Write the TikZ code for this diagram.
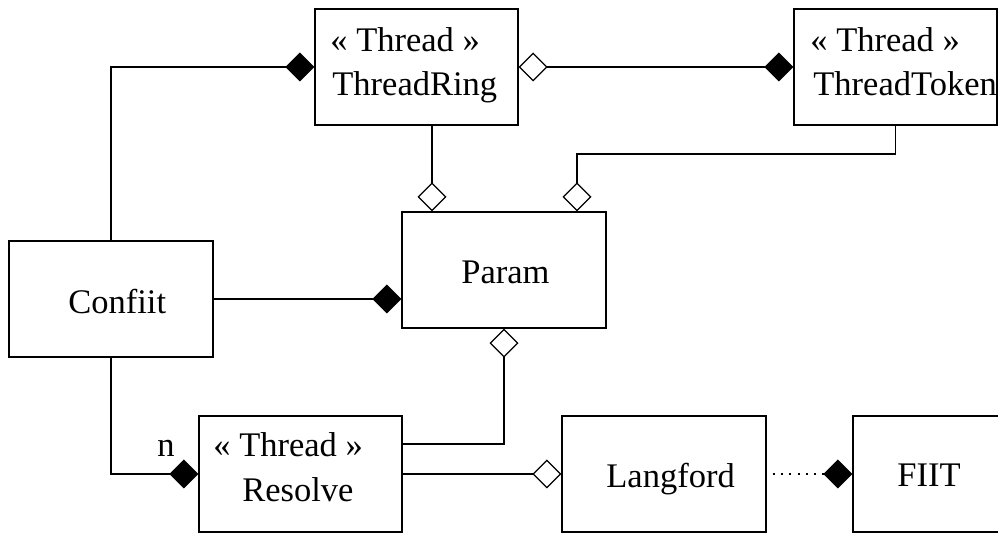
\documentclass[tikz,border=0pt]{standalone}
\usepackage{fontspec}
\setmainfont{Liberation Serif}
\usetikzlibrary{arrows.meta}

\tikzset{
  classbox/.style={draw, line width=0.65pt, inner sep=0pt, minimum height=58pt},
  wide/.style={minimum width=102pt},
  txt/.style={anchor=base west, inner sep=0pt, font=\fontsize{17.25pt}{21pt}\selectfont},
  link/.style={line width=0.65pt},
  comp/.style={link, -{Diamond[fill=black, length=14.5pt, width=14.5pt]}},
  agg/.style={link, -{Diamond[open, fill=white, length=14.5pt, width=14.5pt]}},
  aggcomp/.style={link, {Diamond[open, fill=white, length=14.5pt, width=14.5pt]}-{Diamond[fill=black, length=14.5pt, width=14.5pt]}},
  dep/.style={link, dash pattern=on 1pt off 3.15pt, -{Diamond[fill=black, length=14.5pt, width=14.5pt]}},
}

\begin{document}
\begin{tikzpicture}[x=0.5pt, y=-0.5pt]
  \useasboundingbox (0,0) rectangle (998,533);
  \clip (0,0) rectangle (998,533);

  % class boxes
  \node[classbox, minimum width=101.5pt] (tr)    at (416.5,67)  {};
  \node[classbox, minimum width=101.5pt] (tt)    at (895.5,67)  {};
  \node[classbox, wide]                  (param) at (504,270)   {};
  \node[classbox, wide]                  (conf)  at (111,299)   {};
  \node[classbox, minimum width=101.5pt] (res)   at (300.5,474) {};
  \node[classbox, wide]                  (lang)  at (664,474)   {};
  \node[classbox, wide]                  (fiit)  at (955,474)   {};

  % class names
  \node[txt] (trs)    at (330,52)  {« Thread »};
  \node[txt] (trn)    at (332,96)  {ThreadRing};
  \node[txt] (tts)    at (810,52)  {« Thread »};
  \node[txt] (ttn)    at (813,96)  {ThreadToken};
  \node[txt] (paramn) at (461,284) {Param};
  \node[txt] (confn)  at (68,314)  {Confiit};
  \node[txt] (ress)   at (213,457) {« Thread »};
  \node[txt] (resn)   at (242,502) {Resolve};
  \node[txt] (langn)  at (606,488) {Langford};
  \node[txt] (fiitn)  at (897,487) {FIIT};

  % associations
  \draw[comp] (conf.north) |- (tr.west);
  \draw[aggcomp] (tr.east) -- (tt.west);
  \draw[agg] ([xshift=7.75pt]tr.south) -- ([xshift=7.75pt]tr.south |- param.north);
  \coordinate (ttbend) at (577,154);
  \draw[agg] (tt.south) |- (ttbend) -- (ttbend |- param.north);
  \draw[comp] (conf.east) -- (conf.east -| param.west);
  \draw[agg] ([yshift=15pt]res.east) -| (param.south);
  \draw[comp] (conf.south) |- (res.west);
  \node[txt] (mult) at (157,457) {n};
  \draw[agg] (res.east) -- (lang.west);
  \draw[dep] ([xshift=3pt]lang.east) -- (fiit.west);
\end{tikzpicture}
\end{document}
